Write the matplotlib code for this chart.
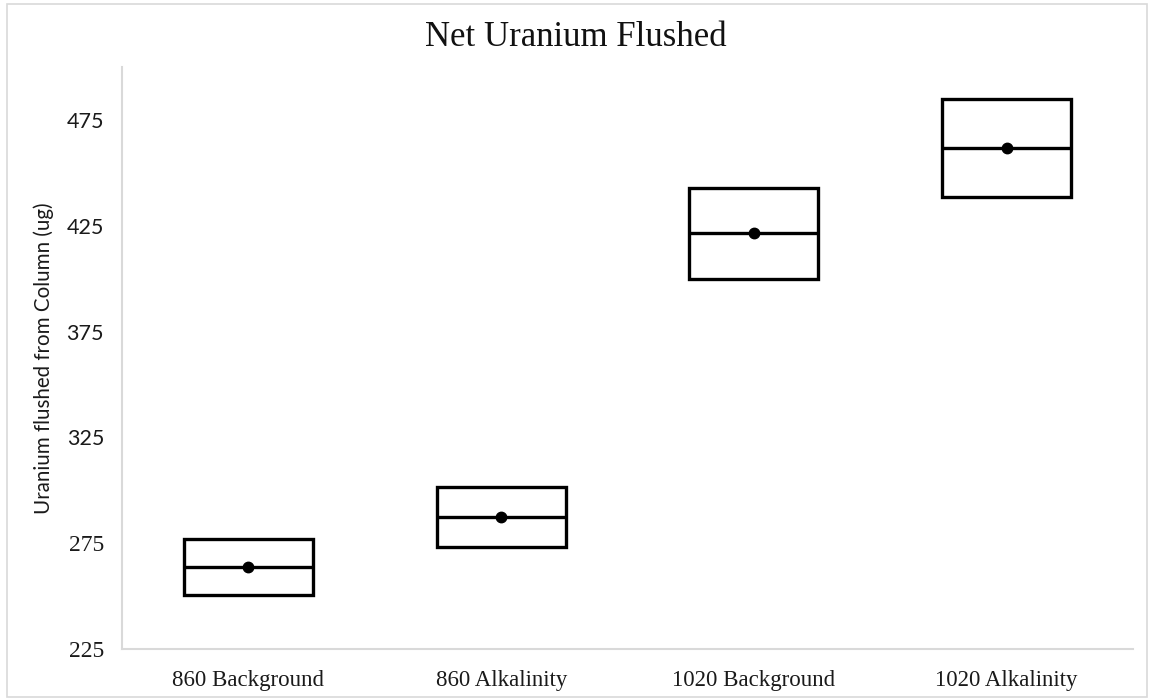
import matplotlib
matplotlib.use("Agg")
import matplotlib.pyplot as plt
from matplotlib.patches import Rectangle

categories = ["860 Background", "860 Alkalinity", "1020 Background", "1020 Alkalinity"]
box_low = [250.5, 273.3, 399.7, 438.5]
box_high = [276.8, 301.7, 442.8, 485.0]
medians = [263.6, 287.5, 421.5, 461.7]
means = [263.6, 287.5, 421.5, 461.7]
yticks = [225, 275, 325, 375, 425, 475]

fig = plt.figure(figsize=(11.52, 7.0), dpi=100)
ax = fig.add_axes([0.106, 0.073, 0.8775, 0.831])

w = 0.51
for i in range(len(categories)):
    ax.add_patch(Rectangle((i - w / 2, box_low[i]), w, box_high[i] - box_low[i],
                           fill=False, edgecolor="black", linewidth=2.4, joinstyle="miter"))
    ax.plot([i - w / 2, i + w / 2], [medians[i], medians[i]], color="black", linewidth=2.4,
            solid_capstyle="butt")
    ax.plot([i], [means[i]], "o", color="black", markersize=7.5)

ax.set_xlim(-0.5, len(categories) - 0.5)
ax.set_ylim(225, 500)
ax.set_xticks(range(len(categories)))
ax.set_xticklabels(categories, family="Liberation Serif", fontsize=16.5)
ax.set_yticks(yticks)
ax.set_yticklabels([str(t) for t in yticks], fontsize=15.5)
for lab, t in zip(ax.get_yticklabels(), yticks):
    if t >= 325:
        lab.set_family("Lato")
    else:
        lab.set_family("Liberation Serif")
        lab.set_fontsize(17)
ax.tick_params(length=0, pad=13, colors="#1a1a1a")
ax.tick_params(axis="x", pad=15)

for s in ["top", "right"]:
    ax.spines[s].set_visible(False)
for s in ["left", "bottom"]:
    ax.spines[s].set_color("#d9d9d9")
    ax.spines[s].set_linewidth(1.5)

ax.set_ylabel("Uranium flushed from Column (ug)", family="Lato", fontsize=14.8, labelpad=9,
              color="#1a1a1a")
fig.text(0.5, 0.947, "Net Uranium Flushed", ha="center", va="center",
         family="Liberation Serif", fontsize=25, color="#111111")

fig.patches.append(Rectangle((0.006, 0.004), 0.99, 0.99, transform=fig.transFigure,
                             fill=False, edgecolor="#d9d9d9", linewidth=1.2))

fig.savefig("out.png", dpi=100)
